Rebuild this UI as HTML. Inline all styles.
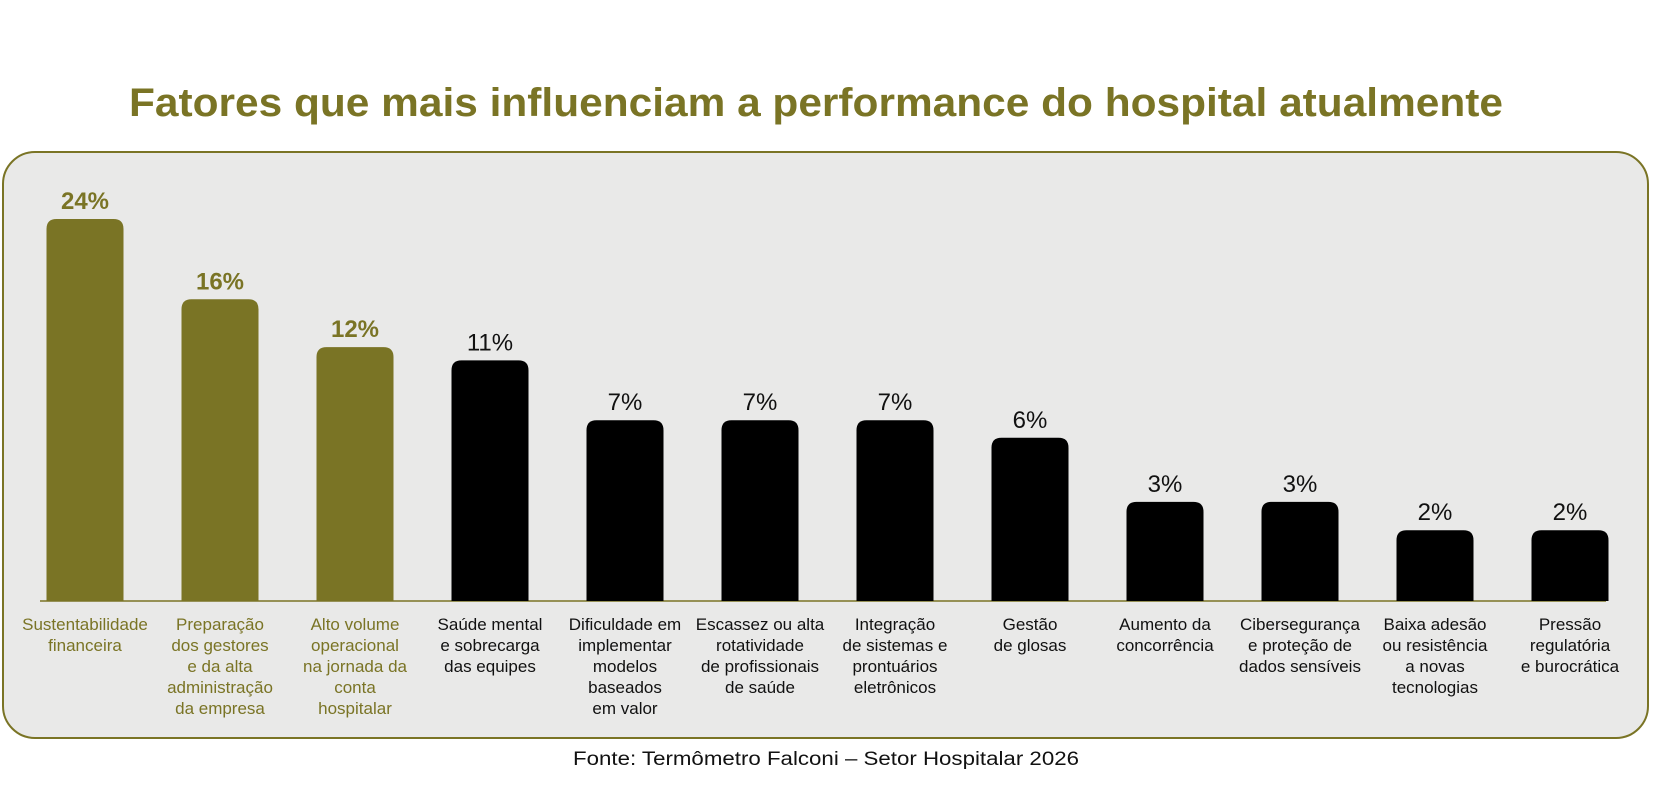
<!DOCTYPE html>
<html><head><meta charset="utf-8"><style>
html,body{margin:0;padding:0;background:#fff;}
svg{display:block;font-family:"Liberation Sans",sans-serif;}
</style></head><body>
<svg id="chart" width="1653" height="786" viewBox="0 0 1653 786">
<text x="816" y="116" text-anchor="middle" font-size="40" font-weight="bold" fill="#7a7425" textLength="1374" lengthAdjust="spacingAndGlyphs">Fatores que mais influenciam a performance do hospital atualmente</text>
<rect x="3" y="152" width="1645" height="586" rx="32" fill="#e9e9e8" stroke="#7a7425" stroke-width="2"/>
<line x1="40" y1="601" x2="1606" y2="601" stroke="#7a7425" stroke-width="1.5"/>
<g id="bars"></g>
<text x="826" y="765" text-anchor="middle" font-size="19" fill="#111" textLength="506" lengthAdjust="spacingAndGlyphs">Fonte: Termômetro Falconi – Setor Hospitalar 2026</text>
</svg>
<script>
const categories = [
 ["Sustentabilidade","financeira"],
 ["Preparação","dos gestores","e da alta","administração","da empresa"],
 ["Alto volume","operacional","na jornada da","conta","hospitalar"],
 ["Saúde mental","e sobrecarga","das equipes"],
 ["Dificuldade em","implementar","modelos","baseados","em valor"],
 ["Escassez ou alta","rotatividade","de profissionais","de saúde"],
 ["Integração","de sistemas e","prontuários","eletrônicos"],
 ["Gestão","de glosas"],
 ["Aumento da","concorrência"],
 ["Cibersegurança","e proteção de","dados sensíveis"],
 ["Baixa adesão","ou resistência","a novas","tecnologias"],
 ["Pressão","regulatória","e burocrática"]
];
const values = [24,16,12,11,7,7,7,6,3,3,2,2];
const valueLabels = ["24%","16%","12%","11%","7%","7%","7%","6%","3%","3%","2%","2%"];
const highlighted = [true,true,true,false,false,false,false,false,false,false,false,false];

const NS="http://www.w3.org/2000/svg";
const baseY=601, barW=77;
function xScale(i){return 85+i*135;}
function hScale(v){return Math.max(0, 89.3*Math.sqrt(v)-55.5);}
const g=document.getElementById('bars');
const olive="#7a7425";
values.forEach((v,i)=>{
  const cx=xScale(i), h=hScale(v), top=baseY-h, r=10;
  const color=highlighted[i]?olive:"#000";
  const p=document.createElementNS(NS,'path');
  p.setAttribute('d',`M${cx-barW/2},${baseY} V${top+r} Q${cx-barW/2},${top} ${cx-barW/2+r},${top} H${cx+barW/2-r} Q${cx+barW/2},${top} ${cx+barW/2},${top+r} V${baseY} Z`);
  p.setAttribute('fill',color);
  
  
  g.appendChild(p);
  const t=document.createElementNS(NS,'text');
  t.setAttribute('x',cx);t.setAttribute('y',top-10);
  t.setAttribute('text-anchor','middle');t.setAttribute('font-size','24');
  if(highlighted[i]) t.setAttribute('font-weight','bold');
  t.setAttribute('fill',highlighted[i]?olive:"#111");
  t.textContent=valueLabels[i];
  
  
  g.appendChild(t);
  const c=document.createElementNS(NS,'text');
  c.setAttribute('text-anchor','middle');c.setAttribute('font-size','17');
  c.setAttribute('fill',highlighted[i]?olive:"#111");
  
  
  categories[i].forEach((line,k)=>{
    const s=document.createElementNS(NS,'tspan');
    s.setAttribute('x',cx);s.setAttribute('y',630+k*21);
    s.textContent=line;c.appendChild(s);
  });
  g.appendChild(c);
});
</script>
</body></html>
